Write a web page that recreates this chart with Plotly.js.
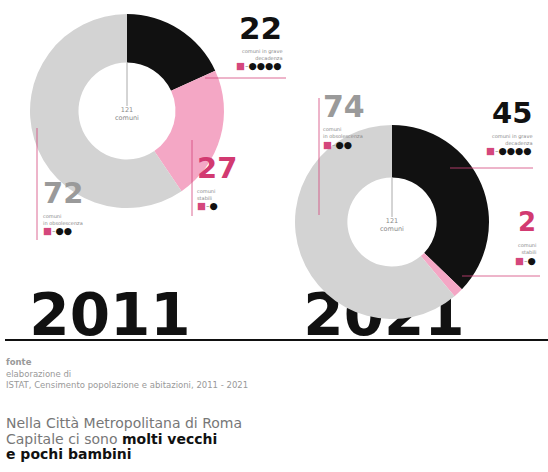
<!DOCTYPE html>
<html><head><meta charset="utf-8">
<script src="https://cdn.plot.ly/plotly-3.0.1.min.js"></script>
<style>html,body{margin:0;padding:0;background:#fff}#chart{width:548px;height:472px}</style>
</head><body><div id="chart"></div>
<script>
// ---- data ----
const years = ['2011', '2021'];
const categories = ['comuni in grave decadenza', 'comuni stabili', 'comuni in obsolescenza'];
const values2011 = [22, 27, 72];
const values2021 = [45, 2, 74];
const dotsByCategory = ['●●●●', '●', '●●'];
const labelLines = [['comuni in grave', 'decadenza'], ['comuni', 'stabili'], ['comuni', 'in obsolescenza']];
const totalWord = 'comuni';
const sourceLines = ['fonte', 'elaborazione di', 'ISTAT, Censimento popolazione e abitazioni, 2011 - 2021'];
const titleLines = ['Nella Città Metropolitana di Roma', 'Capitale ci sono <b>molti vecchi</b>', '<b>e pochi bambini</b>'];

// ---- styles ----
const W = 548, H = 472;
const sliceColors = ['#111111', '#f4a7c5', '#d3d3d3'];
const numColors = ['#111111', '#d23a71', '#9a9a9a'];
const PINK = '#d4477c';
const FONT = 'DejaVu Sans';
const px = x => x / W, py = y => 1 - y / H;

const donuts = [
  {values: values2011, cx: 127, cy: 111, r: 97, hole: 0.5},
  {values: values2021, cx: 392, cy: 222, r: 97, hole: 0.46}
];

const traces = donuts.map((d, i) => ({
  type: 'pie', values: d.values, labels: categories, sort: false, direction: 'clockwise',
  rotation: 0, hole: d.hole, textinfo: 'none', hoverinfo: 'skip', showlegend: false,
  marker: {colors: sliceColors, line: {width: 0}},
  domain: {x: [px(d.cx - d.r), px(d.cx + d.r)], y: [py(d.cy + d.r), py(d.cy - d.r)]},
  name: years[i]
}));

// year labels beneath the donuts (cartesian text so the pies draw above them)
traces.unshift({
  type: 'scatter', mode: 'text', x: [110, 384], y: [320, 320], text: years,
  textposition: 'middle center', hoverinfo: 'skip', showlegend: false,
  textfont: {family: FONT, size: 58, color: '#111', weight: 'bold'}, cliponaxis: false
});

// label placement per year / category (y = centre of the big number)
const place = [
  [{x: 283, y: 28, a: 'right', s: 31}, {x: 196, y: 168, a: 'left', s: 29}, {x: 42, y: 193, a: 'left', s: 29}],
  [{x: 533, y: 113, a: 'right', s: 29}, {x: 537, y: 222, a: 'right', s: 26}, {x: 322, y: 106, a: 'left', s: 30}]
];

const annotations = [];
const shapes = [];
[values2011, values2021].forEach((vals, yi) => {
  vals.forEach((v, ci) => {
    const p = place[yi][ci];
    annotations.push({xref: 'paper', yref: 'paper', x: px(p.x), y: py(p.y), xanchor: p.a, yanchor: 'middle',
      text: String(v), showarrow: false, borderpad: 0, font: {family: FONT, size: p.s, color: numColors[ci], weight: 'bold'}});
    annotations.push({xref: 'paper', yref: 'paper', x: px(p.x), y: py(p.y + 19), xanchor: p.a, yanchor: 'top',
      align: p.a, text: labelLines[ci].join('<br>'), showarrow: false, borderpad: 0,
      font: {family: FONT, size: 5, color: '#888'}});
    annotations.push({xref: 'paper', yref: 'paper', x: px(p.x), y: py(p.y + 38), xanchor: p.a, yanchor: 'middle',
      text: '<span style="color:' + PINK + '">■</span><span style="color:#999">-</span>' + dotsByCategory[ci],
      showarrow: false, borderpad: 0, font: {family: FONT, size: 9.5, color: '#111'}});
  });
  const d = donuts[yi];
  const total = vals.reduce((a, b) => a + b, 0);
  annotations.push({xref: 'paper', yref: 'paper', x: px(d.cx), y: py(d.cy + 3), xanchor: 'center', yanchor: 'middle',
    text: total + '<br>' + totalWord, showarrow: false, font: {family: FONT, size: 6.5, color: '#888'}});
  shapes.push({type: 'line', xref: 'paper', yref: 'paper', x0: px(d.cx), x1: px(d.cx),
    y0: py(d.cy - d.r * d.hole), y1: py(d.cy - 5), line: {color: '#aaa', width: 1}});
});

// pink leader lines
[[205, 78, 286, 78], [192, 140, 192, 216], [37, 128, 37, 240],
 [450, 168, 533, 168], [462, 276, 540, 276], [319, 98, 319, 215]].forEach(l => {
  shapes.push({type: 'line', xref: 'paper', yref: 'paper', x0: px(l[0]), y0: py(l[1]), x1: px(l[2]), y1: py(l[3]),
    line: {color: PINK, width: 1}, opacity: 0.8});
});
// baseline
shapes.push({type: 'line', xref: 'paper', yref: 'paper', x0: px(5), x1: px(548), y0: py(340), y1: py(340),
  line: {color: '#111', width: 2}});

// source
sourceLines.forEach((t, i) => {
  annotations.push({xref: 'paper', yref: 'paper', x: px(5), y: py(362 + i * 11.5), xanchor: 'left', yanchor: 'middle',
    text: i === 0 ? '<b>' + t + '</b>' : t, showarrow: false, borderpad: 0, font: {family: FONT, size: 8.5, color: '#999'}});
});
// title
titleLines.forEach((t, i) => {
  annotations.push({xref: 'paper', yref: 'paper', x: px(5), y: py(423 + i * 15.5), xanchor: 'left', yanchor: 'middle',
    text: t.replace(/<b>/g, '<b style="color:#111">'), showarrow: false, borderpad: 0, font: {family: FONT, size: 14, color: '#777'}});
});

const layout = {
  width: W, height: H, margin: {l: 0, r: 0, t: 0, b: 0},
  paper_bgcolor: '#fff', plot_bgcolor: 'rgba(0,0,0,0)',
  xaxis: {range: [0, W], visible: false, fixedrange: true},
  yaxis: {range: [H, 0], visible: false, fixedrange: true},
  annotations, shapes, showlegend: false
};
Plotly.newPlot('chart', traces, layout, {displayModeBar: false, staticPlot: true});
</script></body></html>
